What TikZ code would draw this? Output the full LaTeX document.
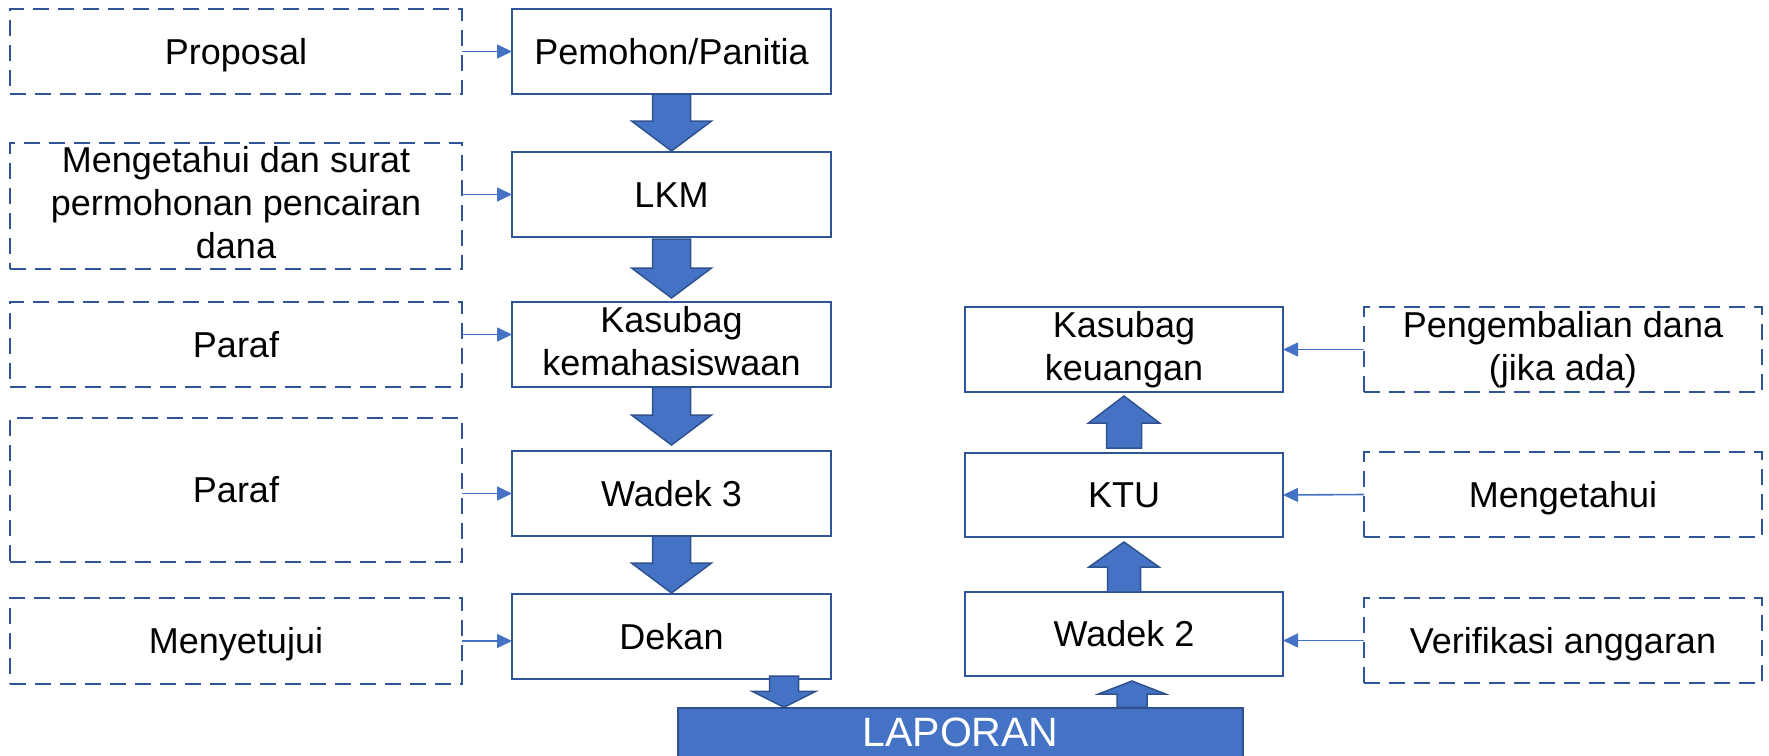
\documentclass[tikz,border=0pt]{standalone}
\usepackage{fontspec}
\setmainfont{Liberation Sans}
\usetikzlibrary{calc,arrows.meta}
\definecolor{boxline}{HTML}{2F5597}
\definecolor{blkfill}{HTML}{4472C4}
\definecolor{blkline}{HTML}{2F528F}
\definecolor{feedcol}{HTML}{4472C4}
\newcommand{\linestrut}{\rule[-7.6pt]{0pt}{40.2pt}}
% #1 from, #2 to, #3 dx, #4 start dy, #5 tip dy, #6 shaft half width, #7 head half width, #8 signed head length
\newcommand{\blockarrow}[8]{%
  \draw[blk] let \p1=($(#1)+(#3,#4)$), \p2=($(#2)+(#3,#5)$) in
    ({\x1-#6pt},\y1) -- ({\x1+#6pt},\y1) -- ({\x1+#6pt},{\y2+(#8pt)}) -- ({\x1+#7pt},{\y2+(#8pt)})
    -- (\x1,\y2) -- ({\x1-#7pt},{\y2+(#8pt)}) -- ({\x1-#6pt},{\y2+(#8pt)}) -- cycle;}
\begin{document}
\begin{tikzpicture}[x=1pt,y=-1pt,
  txt/.style={font=\fontsize{36}{43}\selectfont, align=center, inner sep=0pt, outer sep=0pt,
    execute at begin node=\linestrut, execute at end node=\linestrut},
  solidbox/.style={txt, draw=boxline, line width=2.9pt, fill=white, minimum width=319pt, minimum height=85pt},
  dashbox/.style={txt, draw=boxline, line width=2.9pt, dash pattern=on 16pt off 9pt},
  blk/.style={fill=blkfill, draw=blkline, line width=1.5pt, line join=miter},
  feed/.style={draw=feedcol, line width=1.6pt, -{Triangle[length=15pt,width=14pt]}}]
\useasboundingbox (0,0) rectangle (1769,755);

% left dashed boxes
\node[dashbox, minimum width=452pt, minimum height=85pt] (prop) at (236,51.5) {Proposal};
\node[dashbox, minimum width=452pt, minimum height=126pt] (meng) at (236,206) {Mengetahui dan surat\\permohonan pencairan\\dana};
\node[dashbox, minimum width=452pt, minimum height=85pt] (parafa) at (236,344.5) {Paraf};
\node[dashbox, minimum width=452pt, minimum height=144pt] (parafb) at (236,490) {Paraf};
\node[dashbox, minimum width=452pt, minimum height=86pt] (menye) at (236,641) {Menyetujui};

% middle column
\node[solidbox] (pem) at (671.5,51.5) {Pemohon/Panitia};
\node[solidbox] (lkm) at (671.5,194.5) {LKM};
\node[solidbox] (kasm) at (671.5,344.5) {Kasubag\\kemahasiswaan};
\node[solidbox] (wadc) at (671.5,493.5) {Wadek 3};
\node[solidbox] (dek) at (671.5,636.5) {Dekan};

% right column
\node[solidbox, minimum width=318pt] (kask) at (1124,349.5) {Kasubag\\keuangan};
\node[solidbox, minimum width=318pt, minimum height=84pt] (ktu) at (1124,495) {KTU};
\node[solidbox, minimum width=318pt, minimum height=84pt] (wadb) at (1124,634) {Wadek 2};

% right dashed boxes
\node[dashbox, minimum width=398pt, minimum height=85pt] (peng) at (1563,349.5) {Pengembalian dana\\(jika ada)};
\node[dashbox, minimum width=398pt, minimum height=85pt] (mengr) at (1563,494.5) {Mengetahui};
\node[dashbox, minimum width=398pt, minimum height=85pt] (verif) at (1563,640.5) {Verifikasi anggaran};

% LAPORAN bar
\node[draw=blkline, fill=blkfill, line width=1.5pt, minimum width=565pt, minimum height=49pt,
  inner sep=0pt, text=white, font=\fontsize{41}{49}\selectfont] (lap) at (960.5,732.5) {LAPORAN};

% block arrows
\blockarrow{pem.south}{lkm.north}{0}{0}{-1}{19}{40}{30}
\blockarrow{lkm.south}{kasm.north}{0}{2}{-4}{19}{40}{30}
\blockarrow{kasm.south}{wadc.north}{0}{0}{-6}{19}{40}{30}
\blockarrow{wadc.south}{dek.north}{0}{0}{-1}{19}{40}{30}
\blockarrow{dek.south}{lap.north}{112.5}{-3}{0}{14.5}{32}{16}
\blockarrow{lap.north}{wadb.south}{171.5}{0}{5}{15}{33.5}{-13}
\blockarrow{wadb.north}{ktu.south}{0}{0}{5}{16.5}{35}{-25}
\blockarrow{ktu.north}{kask.south}{0}{-5}{4}{17.5}{35.5}{-27}

% thin feed arrows
\draw[feed] (prop.east) -- (pem.west);
\draw[feed] (meng.east |- lkm.west) -- (lkm.west);
\draw[feed] ($(parafa.east)+(0,-10)$) -- ($(kasm.west)+(0,-10)$);
\draw[feed] (parafb.east |- wadc.west) -- (wadc.west);
\draw[feed] (menye.east) -- (dek.west |- menye.east);
\draw[feed] (peng.west) -- (kask.east);
\draw[feed] (mengr.west) -- (ktu.east);
\draw[feed] (verif.west) -- (wadb.east |- verif.west);
\end{tikzpicture}
\end{document}
